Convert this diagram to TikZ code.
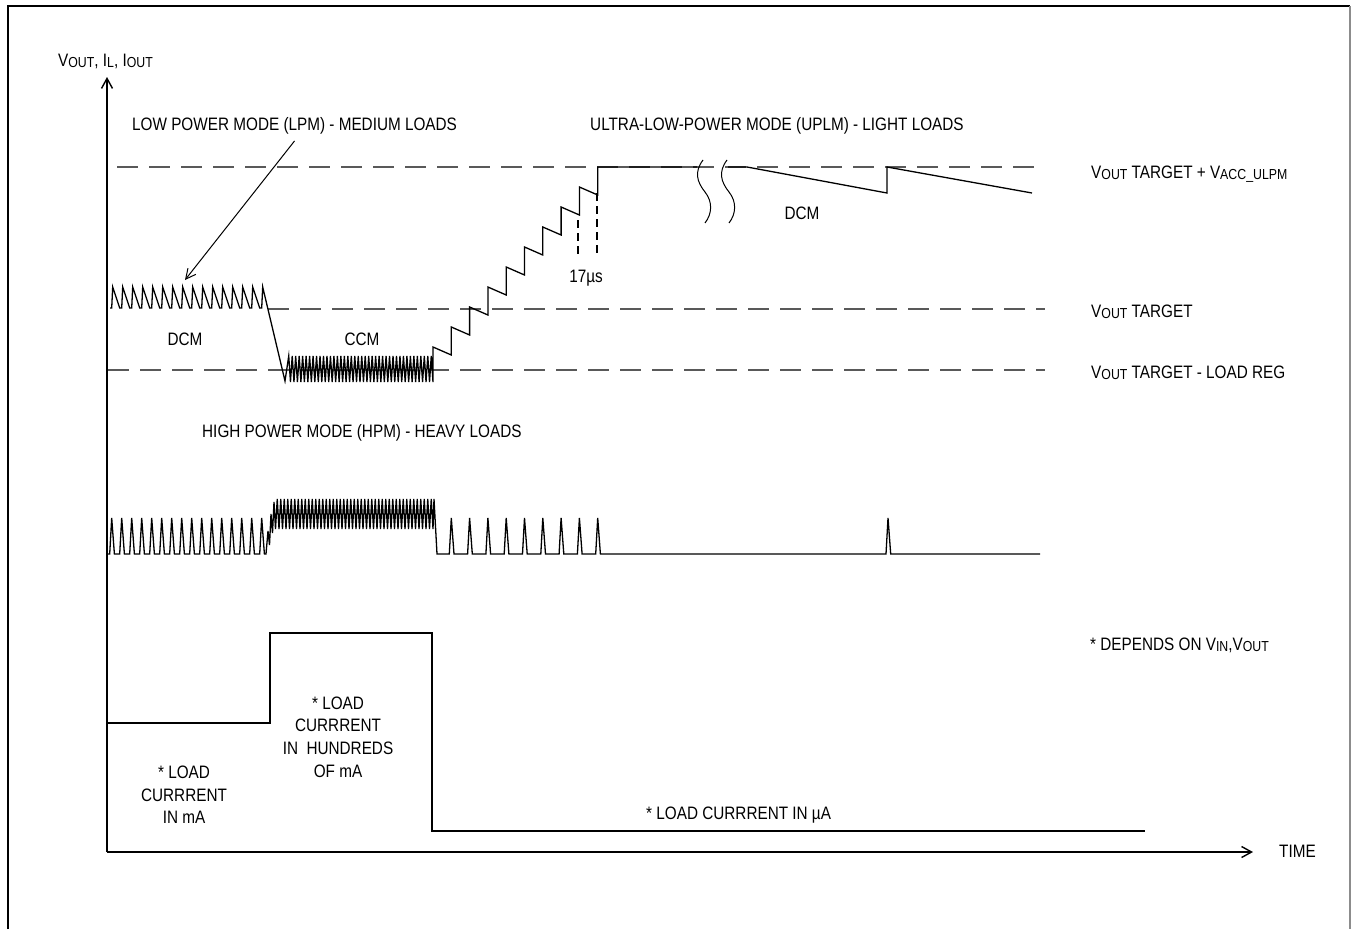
\documentclass[tikz,border=0pt]{standalone}
\usepackage{fontspec}
\setmainfont[FakeStretch=0.85]{Liberation Sans}
\usetikzlibrary{arrows.meta,positioning}
\newcommand{\sbs}[1]{\raisebox{-0.1em}{\fontsize{14.5}{14.5}\selectfont #1}}

\begin{document}
\begin{tikzpicture}[
    x=1pt,y=-1pt,
    wave/.style={draw=black,line width=1.3pt},
    level/.style={draw=black!65,line width=1.4pt,dash pattern=on 21pt off 11pt},
    tickmark/.style={draw=black,line width=2pt,dash pattern=on 8pt off 5pt},
    axisline/.style={line width=1.4pt,-{Straight Barb[length=10pt,width=11pt]}},
    pointer/.style={line width=1pt,-{Straight Barb[length=10pt,width=10pt]}},
    brk/.style={draw=black,line width=1pt},
    lbl/.style={inner sep=0pt,font=\fontsize{18}{22.7}\selectfont},
    frame/.style={draw=black,line width=2pt}
]

    \useasboundingbox (0,0) rectangle (1351,929);

    % frame
    \draw[frame] (8,929) -- (8,6) -- (1350,6);
    \draw[line width=1.5pt,black!45] (1350,6) -- (1350,929);

    % axes
    \coordinate (O) at (107,852);
    \coordinate (ytop) at (107,77);
    \coordinate (xend) at (1253,852);
    \draw[axisline] (O) -- (ytop);
    \draw[axisline] (O) -- (xend);

    \node[lbl,anchor=base west] (ylab) at (58,66) {V\sbs{OUT}, I\sbs{L}, I\sbs{OUT}};
    \node[lbl,anchor=base west] (time) at (1279,857) {TIME};

    % reference levels
    \draw[level] (117,167) -- (1045,167);
    \draw[level] (268,309) -- (1045,309);
    \draw[level] (108,370) -- (1045,370);

    \node[lbl,anchor=base west] (acc) at (1091,178) {V\sbs{OUT} TARGET + V\sbs{ACC\_ULPM}};
    \node[lbl,anchor=base west] (target) at (1091,317) {V\sbs{OUT} TARGET};
    \node[lbl,anchor=base west] (loadreg) at (1091,378) {V\sbs{OUT} TARGET - LOAD REG};
    \node[lbl,anchor=base west] (depends) at (1090,650) {* DEPENDS ON V\sbs{IN},V\sbs{OUT}};

    % modes
    \node[lbl,anchor=base west] (lpm) at (132,130) {LOW POWER MODE (LPM) - MEDIUM LOADS};
    \node[lbl,anchor=base west] (ulpm) at (590,130) {ULTRA-LOW-POWER MODE (UPLM) - LIGHT LOADS};
    \node[lbl,anchor=base west] (hpm) at (202,437) {HIGH POWER MODE (HPM) - HEAVY LOADS};
    \coordinate (lpmtip) at (185,280);
    \draw[pointer] ([yshift=-7pt]lpm.south) -- (lpmtip);

    \node[lbl,anchor=base] (dcmA) at (185,345) {DCM};
    \node[lbl,anchor=base] (ccm) at (362,345) {CCM};
    \node[lbl,anchor=base] (dcmB) at (802,219) {DCM};

    % V_OUT
    \draw[wave] (110,308)
        \foreach \k in {0,...,14} { -- ({111.7+10*\k},308) -- ({112.7+10*\k},287) -- ({119.7+10*\k},308) }
        -- (261.7,308) -- (262.7,287) -- (285,381)
        \foreach \i in {0,...,41} { -- ({287+3.476*\i+1.738},356) -- ({287+3.476*(\i+1)},382) }
        -- (433,347)
        \foreach \k in {1,...,9} { -- ({433+18.3*\k},{355-20*(\k-1)}) -- ({433+18.3*\k},{347-20*\k}) }
        -- (697,167);
    \draw[brk] (703,160) .. controls (694,172) and (697,182) .. (705,192)
        .. controls (713,202) and (712,214) .. (705,223);
    \draw[brk] (727,160) .. controls (718,172) and (721,182) .. (729,192)
        .. controls (737,202) and (736,214) .. (729,223);
    \draw[wave] (728,167) -- (747,167) -- (887,193) -- (887,167) -- (1032,193);

    % 17us
    \draw[tickmark] (578,220) -- (578,257);
    \draw[tickmark] (597,193) -- (597,257);
    \node[lbl,anchor=base] (tus) at (586,282) {17µs};

    % I_L
    \draw[wave] (107,554)
        \foreach \k in {0,...,15} { -- ({109.7+10*\k},554) -- ({111.7+10*\k},518) -- ({114.4+10*\k},554) }
        -- (266,554) -- (268,531) -- (269.5,545) -- (271,514) -- (272.5,533) -- (274,502) -- (275.5,529)
        \foreach \i in {0,...,44} { -- ({275.5+3.5*\i+1.75},499) -- ({275.5+3.5*(\i+1)},529) }
        -- (434,499) -- (437,554)
        \foreach \k in {1,...,9} { -- ({431+18.3*\k},554) -- ({433+18.3*\k},518) -- ({435.7+18.3*\k},554) }
        -- (886,554) -- (888,518) -- (890.7,554) -- (1040,554);

    % I_OUT
    \draw[wave] (107,723) -- (270,723) -- (270,633) -- (432,633) -- (432,831) -- (1145,831);

    \node[lbl,align=center] (ima) at (184,795) {* LOAD\\CURRRENT\\IN mA};
    \node[lbl,align=center] (ihund) at (338,737) {* LOAD\\CURRRENT\\IN \ HUNDREDS\\OF mA};
    \node[lbl,anchor=base west] (iua) at (646,819) {* LOAD CURRRENT IN µA};

\end{tikzpicture}
\end{document}
